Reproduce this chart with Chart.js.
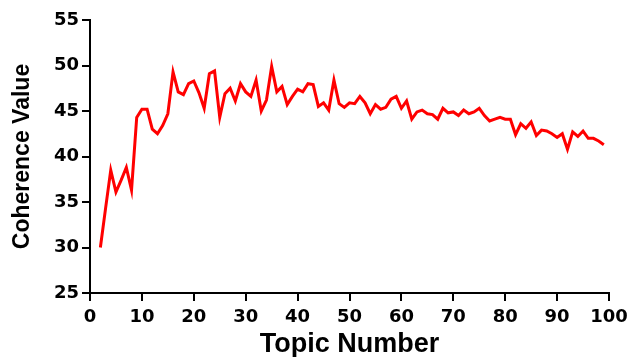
<!DOCTYPE html>
<html>
<head>
<meta charset="utf-8">
<script src="https://cdn.jsdelivr.net/npm/chart.js@4.4.0/dist/chart.umd.min.js"></script>
<style>
  html, body { margin: 0; padding: 0; background: #fff; }
  #wrap { width: 629px; height: 357px; }
</style>
</head>
<body>
<div id="wrap"><canvas id="chart" width="629" height="357"></canvas></div>
<script>
// Topic numbers and coherence values
const topicNumbers = [];
for (let t = 2; t <= 99; t++) topicNumbers.push(t);

const coherenceValues = [
    30.0, 34.3, 38.5, 36.1, 37.4, 38.8, 36.3, 44.3, 45.2,        // 2-10
    45.2, 43.0, 42.5, 43.4, 44.7, 49.3, 47.1, 46.8, 48.0, 48.3,  // 11-20
    47.0, 45.3, 49.1, 49.4, 44.3, 46.9, 47.5, 46.1, 48.0, 47.1,  // 21-30
    46.6, 48.4, 45.0, 46.2, 49.9, 47.1, 47.7, 45.7, 46.6, 47.4,  // 31-40
    47.1, 48.0, 47.9, 45.5, 45.9, 45.1, 48.4, 45.8, 45.4, 45.9,  // 41-50
    45.8, 46.6, 45.9, 44.7, 45.7, 45.2, 45.4, 46.3, 46.6, 45.3,  // 51-60
    46.1, 44.1, 44.9, 45.1, 44.7, 44.6, 44.1, 45.3, 44.8, 44.9,  // 61-70
    44.5, 45.1, 44.7, 44.9, 45.3, 44.5, 43.9, 44.1, 44.3, 44.1,  // 71-80
    44.1, 42.4, 43.6, 43.1, 43.8, 42.3, 42.9, 42.8, 42.5, 42.1,  // 81-90
    42.5, 40.8, 42.7, 42.2, 42.8, 42.0, 42.0, 41.7, 41.3         // 91-99
];

const xTicks = [0, 10, 20, 30, 40, 50, 60, 70, 80, 90, 100];
const yTicks = [25, 30, 35, 40, 45, 50, 55];

const points = topicNumbers.map((t, i) => ({ x: t, y: coherenceValues[i] }));

const tickFont = { family: "'DejaVu Sans', sans-serif", size: 18, weight: 'bold' };

new Chart(document.getElementById('chart'), {
    type: 'line',
    data: {
        datasets: [{
            data: points,
            borderColor: '#ff0000',
            borderWidth: 3,
            pointRadius: 0,
            tension: 0,
            fill: false
        }]
    },
    options: {
        responsive: false,
        animation: false,
        layout: { padding: { left: 0, right: 20, top: 20, bottom: 0 } },
        plugins: { legend: { display: false }, tooltip: { enabled: false } },
        scales: {
            x: {
                type: 'linear',
                min: 0,
                max: 100,
                afterBuildTicks: (scale) => { scale.ticks = xTicks.map(v => ({ value: v })); },
                afterFit: (scale) => {
                    scale.height = 64;
                    scale.paddingLeft = 0;
                    scale.paddingRight = 0;
                },
                ticks: { color: '#000', font: tickFont, padding: 6, maxRotation: 0 },
                grid: { drawOnChartArea: false, drawTicks: true, tickLength: 8, color: '#000', lineWidth: 2 },
                border: { color: '#000', width: 2 },
                title: {
                    display: true,
                    text: 'Topic Number',
                    color: '#000',
                    font: { family: "'Liberation Sans', Arial, sans-serif", size: 27, weight: 'bold', lineHeight: 1 },
                    padding: { top: 0, bottom: -1 }
                }
            },
            y: {
                min: 25,
                max: 55,
                afterBuildTicks: (scale) => { scale.ticks = yTicks.map(v => ({ value: v })); },
                afterFit: (scale) => { scale.width = 90; },
                ticks: { color: '#000', font: tickFont, padding: 3 },
                grid: { drawOnChartArea: false, drawTicks: true, tickLength: 8, color: '#000', lineWidth: 2 },
                border: { color: '#000', width: 2 },
                title: {
                    display: true,
                    text: 'Coherence Value',
                    color: '#000',
                    font: { family: "'Liberation Sans', Arial, sans-serif", size: 23, weight: 'bold', lineHeight: 1 },
                    padding: { top: 11, bottom: 0 }
                }
            }
        }
    }
});
</script>
</body>
</html>
